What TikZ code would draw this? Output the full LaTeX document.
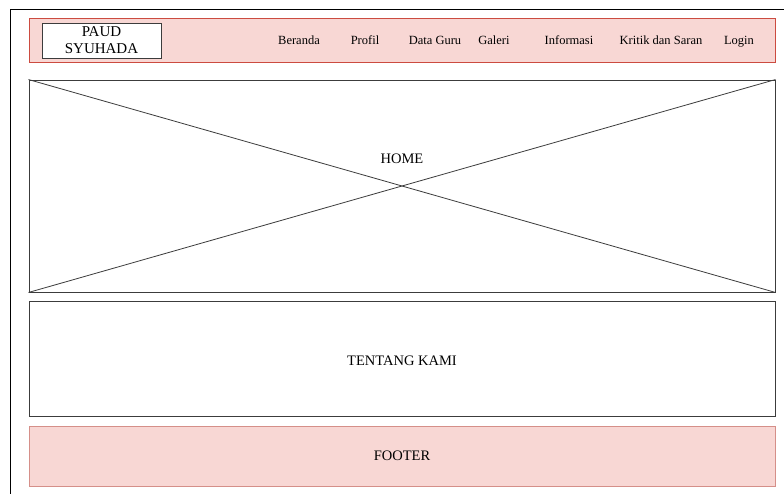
\documentclass[tikz,border=0pt]{standalone}
\usepackage{fontspec}
\setmainfont{Liberation Serif}
\definecolor{pinkfill}{HTML}{F8D7D4}
\definecolor{redline}{HTML}{CC4B40}
\definecolor{footline}{HTML}{D58F89}
\definecolor{boxline}{HTML}{3C3C3C}
\tikzset{
	panel/.style={draw=boxline, line width=0.9pt, minimum width=746pt, inner sep=0pt},
	navitem/.style={font=\fontsize{12.5}{14}\selectfont, inner sep=1pt, anchor=base},
	bigtext/.style={font=\fontsize{14.5}{16}\selectfont, inner sep=1pt}
}
\begin{document}
\begin{tikzpicture}[x=1pt, y=-1pt]

	\useasboundingbox[fill=white] (0,0) rectangle (784,494);
	\draw[line width=0.9pt] (10,494) -- (10,9) -- (784,9);

	% header
	\node[panel, draw=redline, fill=pinkfill, minimum height=44pt] (header) at (402,40) {};
	\node[draw=boxline, line width=0.9pt, fill=white, minimum width=119pt, minimum height=35pt, inner sep=0pt,
		align=center, font=\fontsize{15}{17}\selectfont] (logo) at (101.5,40.5) {PAUD\\SYUHADA};

	\node[navitem] (beranda) at (299,44.5) {Beranda};
	\node[navitem] (profil) at (365,44.5) {Profil};
	\node[navitem] (dataguru) at (435,44.5) {Data Guru};
	\node[navitem] (galeri) at (494,44.5) {Galeri};
	\node[navitem] (informasi) at (569,44.5) {Informasi};
	\node[navitem] (kritik) at (661,44.5) {Kritik dan Saran};
	\node[navitem] (login) at (739,44.5) {Login};

	% home
	\node[panel, minimum height=212pt] (home) at (402,186) {};
	\draw[boxline, line width=0.8pt] (home.north west) -- (home.south east);
	\draw[boxline, line width=0.8pt] (home.south west) -- (home.north east);
	\node[bigtext] (homelabel) at (402,159) {HOME};

	% tentang kami
	\node[panel, minimum height=115pt] (tentang) at (402,358.5) {};
	\node[bigtext] (tentanglabel) at (402,361) {TENTANG KAMI};

	% footer
	\node[panel, draw=footline, fill=pinkfill, minimum height=60pt] (footer) at (402,456) {};
	\node[bigtext] (footerlabel) at (402,456) {FOOTER};

\end{tikzpicture}
\end{document}
